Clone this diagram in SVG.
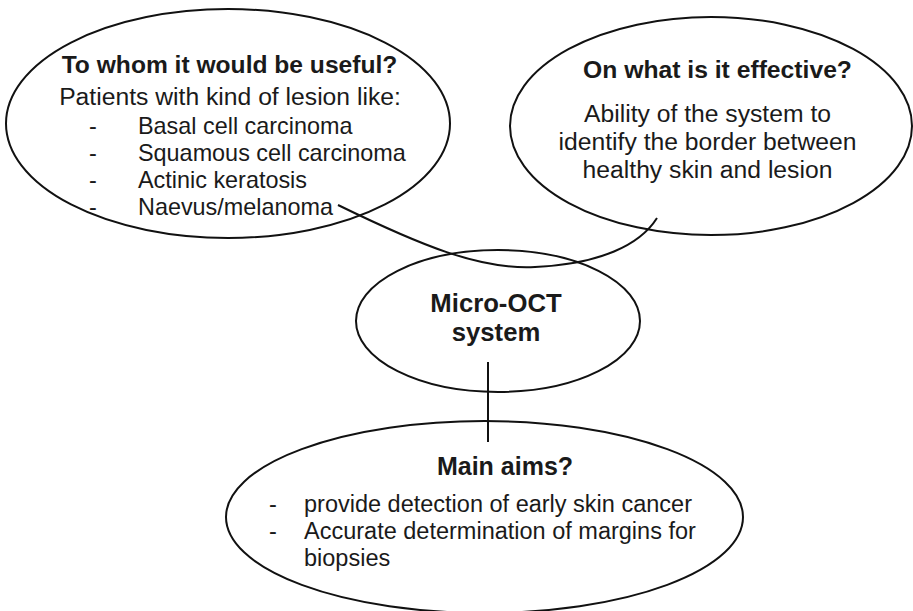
<svg xmlns="http://www.w3.org/2000/svg" width="913" height="611" viewBox="0 0 913 611">
<style>
.shape{fill:none;stroke:#111;stroke-width:2}
.link{fill:none;stroke:#111;stroke-width:2}
.b{font-family:"Liberation Sans",Arial,sans-serif;font-weight:bold;fill:#1a1a1a}
.r{font-family:"Liberation Sans",Arial,sans-serif;fill:#1a1a1a}
</style>
<rect width="913" height="611" fill="#fff"/>
<g id="node-whom">
<ellipse class="shape" cx="228" cy="123.5" rx="222" ry="114.5"/>
<text class="b" x="229.5" y="73" font-size="24.6" text-anchor="middle">To whom it would be useful?</text>
<text class="r" x="230" y="105" font-size="24.7" text-anchor="middle">Patients with kind of lesion like:</text>
<g class="r" font-size="23.4">
<text x="89" y="134">-</text><text x="138" y="134">Basal cell carcinoma</text>
<text x="89" y="161">-</text><text x="138" y="161">Squamous cell carcinoma</text>
<text x="89" y="188">-</text><text x="138" y="188">Actinic keratosis</text>
<text x="89" y="215">-</text><text x="138" y="215">Naevus/melanoma</text>
</g>
</g>
<g id="node-effective">
<ellipse class="shape" cx="711" cy="126" rx="201" ry="109"/>
<text class="b" x="717.5" y="78" font-size="24.7" text-anchor="middle">On what is it effective?</text>
<g class="r" font-size="24.7" text-anchor="middle">
<text x="707.5" y="122">Ability of the system to</text>
<text x="707.5" y="150">identify the border between</text>
<text x="707.5" y="178">healthy skin and lesion</text>
</g>
</g>
<g id="node-micro">
<ellipse class="shape" cx="498" cy="321" rx="142" ry="71"/>
<text class="b" x="496" y="312" font-size="25.7" text-anchor="middle">Micro-OCT</text>
<text class="b" x="496" y="341" font-size="25.7" text-anchor="middle">system</text>
</g>
<g id="node-aims">
<ellipse class="shape" cx="484.5" cy="517" rx="258.5" ry="96"/>
<text class="b" x="505" y="475" font-size="25" text-anchor="middle">Main aims?</text>
<g class="r" font-size="23.5">
<text x="269" y="512">-</text><text x="304" y="512">provide detection of early skin cancer</text>
<text x="269" y="539">-</text><text x="304" y="539">Accurate determination of margins for</text>
<text x="304" y="566">biopsies</text>
</g>
</g>
<g id="connectors">
<path class="link" d="M338,205 C420,245 480,270 535,267 C600,264 640,245 657,218"/>
<line class="link" x1="488" y1="362" x2="488" y2="442" stroke-width="3"/>
</g>
</svg>
